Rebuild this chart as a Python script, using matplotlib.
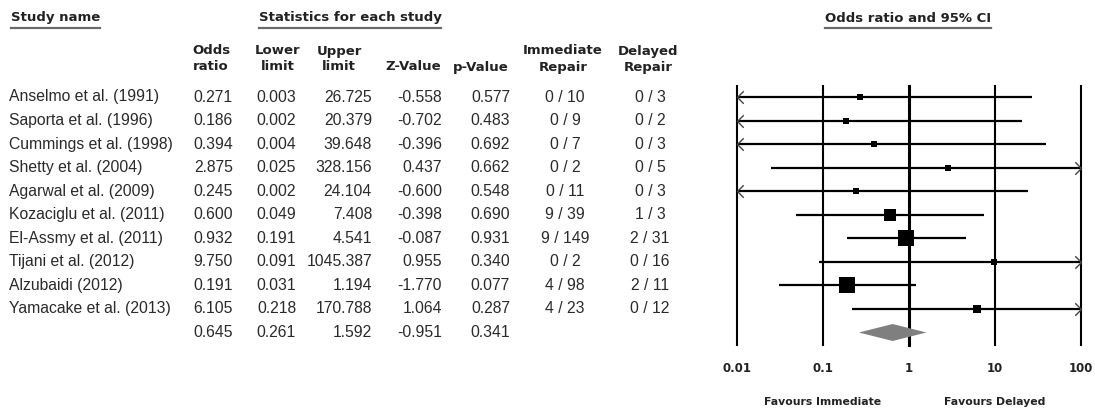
import numpy as np
import matplotlib
matplotlib.use("Agg")
import matplotlib.pyplot as plt
from matplotlib.path import Path
from matplotlib.transforms import blended_transform_factory
from matplotlib.lines import Line2D

# ---------------- data ----------------
studies = ["Anselmo et al. (1991)", "Saporta et al. (1996)", "Cummings et al. (1998)",
           "Shetty et al. (2004)", "Agarwal et al. (2009)", "Kozaciglu et al. (2011)",
           "El-Assmy et al. (2011)", "Tijani et al. (2012)", "Alzubaidi (2012)",
           "Yamacake et al. (2013)"]
odds_ratio = [0.271, 0.186, 0.394, 2.875, 0.245, 0.600, 0.932, 9.750, 0.191, 6.105]
lower_limit = [0.003, 0.002, 0.004, 0.025, 0.002, 0.049, 0.191, 0.091, 0.031, 0.218]
upper_limit = [26.725, 20.379, 39.648, 328.156, 24.104, 7.408, 4.541, 1045.387, 1.194, 170.788]
z_value = [-0.558, -0.702, -0.396, 0.437, -0.600, -0.398, -0.087, 0.955, -1.770, 1.064]
p_value = [0.577, 0.483, 0.692, 0.662, 0.548, 0.690, 0.931, 0.340, 0.077, 0.287]
immediate_repair = ["0 / 10", "0 / 9", "0 / 7", "0 / 2", "0 / 11", "9 / 39", "9 / 149",
                    "0 / 2", "4 / 98", "4 / 23"]
delayed_repair = ["0 / 3", "0 / 2", "0 / 3", "0 / 5", "0 / 3", "1 / 3", "2 / 31",
                  "0 / 16", "2 / 11", "0 / 12"]
# relative weights
weights = [4.5, 3.5, 4.5, 4.5, 4.0, 13.0, 28.0, 3.0, 22.0, 6.0]

summary_or = 0.645
summary_lower = 0.261
summary_upper = 1.592
summary_z = -0.951
summary_p = 0.341

xticks = [0.01, 0.1, 1, 10, 100]
xtick_labels = ["0.01", "0.1", "1", "10", "100"]

# ---------------- figure ----------------
W, H = 1095, 411
fig = plt.figure(figsize=(W / 100, H / 100), dpi=100)
fig.patch.set_facecolor("white")

def fx(px):
    return px / W

def fy(py):
    return 1 - py / H

row0_px, row_step = 97.0, 23.55
top_px, bot_px = 86.0, 345.0
ax = fig.add_axes([fx(737), fy(bot_px), fx(1081) - fx(737), fy(top_px) - fy(bot_px)])
ax.set_xscale("log")
ax.set_xlim(xticks[0], xticks[-1])
ax.set_ylim((bot_px - row0_px) / row_step, (top_px - row0_px) / row_step)
for s in ax.spines.values():
    s.set_visible(False)
ax.set_yticks([])
ax.set_xticks(xticks)
ax.set_xticklabels(xtick_labels, fontsize=8.5, fontweight="bold",
                   family="DejaVu Sans", color="#222222")
ax.xaxis.set_minor_locator(matplotlib.ticker.NullLocator())
ax.tick_params(axis="x", length=0, pad=12)

for t in xticks:
    ax.axvline(t, color="black", lw=2.2 if t == 1 else 1.5, zorder=1, clip_on=False)

left_chev = Path([(1, 1), (0, 0), (1, -1)], [Path.MOVETO, Path.LINETO, Path.LINETO])
right_chev = Path([(-1, 1), (0, 0), (-1, -1)], [Path.MOVETO, Path.LINETO, Path.LINETO])

xmin, xmax = xticks[0], xticks[-1]
for i in range(len(studies)):
    lo, hi = lower_limit[i], upper_limit[i]
    x0, x1 = max(lo, xmin), min(hi, xmax)
    ax.plot([x0, x1], [i, i], color="black", lw=1.6, zorder=2, clip_on=False,
            solid_capstyle="butt")
    if lo < xmin:
        ax.plot([xmin], [i], marker=left_chev, ms=9, color="#444444", mew=1.0,
                fillstyle="none", zorder=2, clip_on=False)
    if hi > xmax:
        ax.plot([xmax], [i], marker=right_chev, ms=9, color="#444444", mew=1.0,
                fillstyle="none", zorder=2, clip_on=False)
    side_pt = 3.2 * np.sqrt(weights[i]) * 0.72
    ax.scatter([odds_ratio[i]], [i], marker="s", s=side_pt ** 2, color="black",
               zorder=3, clip_on=False, linewidths=0)

ys = len(studies)
dh = 0.36
ax.fill([summary_lower, summary_or, summary_upper, summary_or],
        [ys, ys - dh, ys, ys + dh], color="#7f7f7f", zorder=4, lw=0)

# ---------------- table ----------------
tr = blended_transform_factory(fig.transFigure, ax.transData)
dfont = dict(family="Liberation Sans", fontsize=11.3, color="#2a2a2a", va="center",
             transform=tr, clip_on=False)
col_right = [233, 296, 372, 442, 510]
col_center = [565, 650]

for i in range(len(studies)):
    fig.text(fx(9), i, studies[i], ha="left", **dfont)
    vals = [odds_ratio[i], lower_limit[i], upper_limit[i], z_value[i], p_value[i]]
    for xr, v in zip(col_right, vals):
        fig.text(fx(xr), i, f"{v:.3f}", ha="right", **dfont)
    fig.text(fx(col_center[0]), i, immediate_repair[i], ha="center", **dfont)
    fig.text(fx(col_center[1]), i, delayed_repair[i], ha="center", **dfont)

svals = [summary_or, summary_lower, summary_upper, summary_z, summary_p]
for xr, v in zip(col_right, svals):
    fig.text(fx(xr), ys, f"{v:.3f}", ha="right", **dfont)

# headers
hfont = dict(family="DejaVu Sans", fontweight="bold", fontsize=9.5, color="#222222",
             va="center")
h1 = fig.text(fx(11), fy(18), "Study name", ha="left", **hfont)
h2 = fig.text(fx(350), fy(18), "Statistics for each study", ha="center", **hfont)
h3 = fig.text(fx(908), fy(18), "Odds ratio and 95% CI", ha="center", **hfont)

hdrs = [("Odds", "ratio", 211), ("Lower", "limit", 278), ("Upper", "limit", 339),
        (None, "Z-Value", 413), (None, "p-Value", 481),
        ("Immediate", "Repair", 563), ("Delayed", "Repair", 648)]
for top, bot, xc in hdrs:
    if top:
        fig.text(fx(xc), fy(51), top, ha="center", **hfont)
    fig.text(fx(xc), fy(67), bot, ha="center", **hfont)

fig.text(fx(823), fy(402), "Favours Immediate", ha="center", family="DejaVu Sans",
         fontweight="bold", fontsize=7.8, color="#222222", va="center")
fig.text(fx(995), fy(402), "Favours Delayed", ha="center", family="DejaVu Sans",
         fontweight="bold", fontsize=7.8, color="#222222", va="center")

# underlines
fig.canvas.draw()
r = fig.canvas.get_renderer()
for h in (h1, h2, h3):
    bb = h.get_window_extent(renderer=r)
    fig.add_artist(Line2D([bb.x0 / W, bb.x1 / W], [fy(28), fy(28)],
                          transform=fig.transFigure, color="#6a6a6a", lw=1.6))

fig.savefig("out.png", dpi=100, facecolor="white")
